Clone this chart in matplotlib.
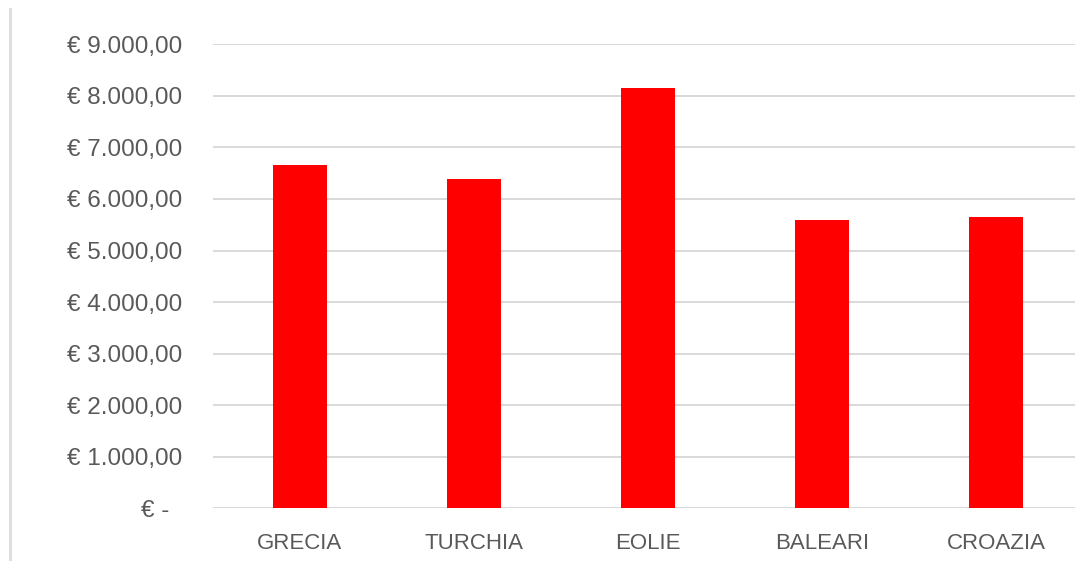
import matplotlib
matplotlib.use("Agg")
import matplotlib.pyplot as plt
from matplotlib.lines import Line2D
from matplotlib.ticker import FuncFormatter

destinations = ["GRECIA", "TURCHIA", "EOLIE", "BALEARI", "CROAZIA"]
costs = [6650, 6390, 8150, 5600, 5650]
y_ticks = list(range(0, 9001, 1000))


def euro(v, pos=None):
    if v == 0:
        return "€ -  "
    s = f"{v:,.2f}".replace(",", "X").replace(".", ",").replace("X", ".")
    return "€ " + s


plt.rcParams["font.family"] = ["Liberation Sans", "DejaVu Sans"]

fig = plt.figure(figsize=(10.75, 5.61), dpi=100)
ax = fig.add_axes([213 / 1075, 52.7 / 561, 870 / 1075, 464 / 561])

x = range(len(destinations))
ax.bar(x, costs, width=0.305, color="#ff0000", zorder=3)

ax.set_xlim(-0.5, len(destinations) - 0.5)
ax.set_ylim(0, 9000)
ax.set_yticks(y_ticks)
ax.yaxis.set_major_formatter(FuncFormatter(euro))
ax.set_xticks(list(x))
ax.set_xticklabels(destinations)

ax.grid(axis="y", color="#d9d9d9", linewidth=1.4, zorder=0)
ax.tick_params(axis="both", length=0, labelcolor="#595959")
ax.tick_params(axis="y", pad=22, labelsize=17.5)
ax.tick_params(axis="x", pad=18, labelsize=16)
for sp in ax.spines.values():
    sp.set_visible(False)

# chart frame edge on the left
fig.add_artist(Line2D([10 / 1075, 10 / 1075], [0, 552 / 561],
                      color="#dedede", linewidth=2.2))

fig.savefig("out.png", dpi=100)
